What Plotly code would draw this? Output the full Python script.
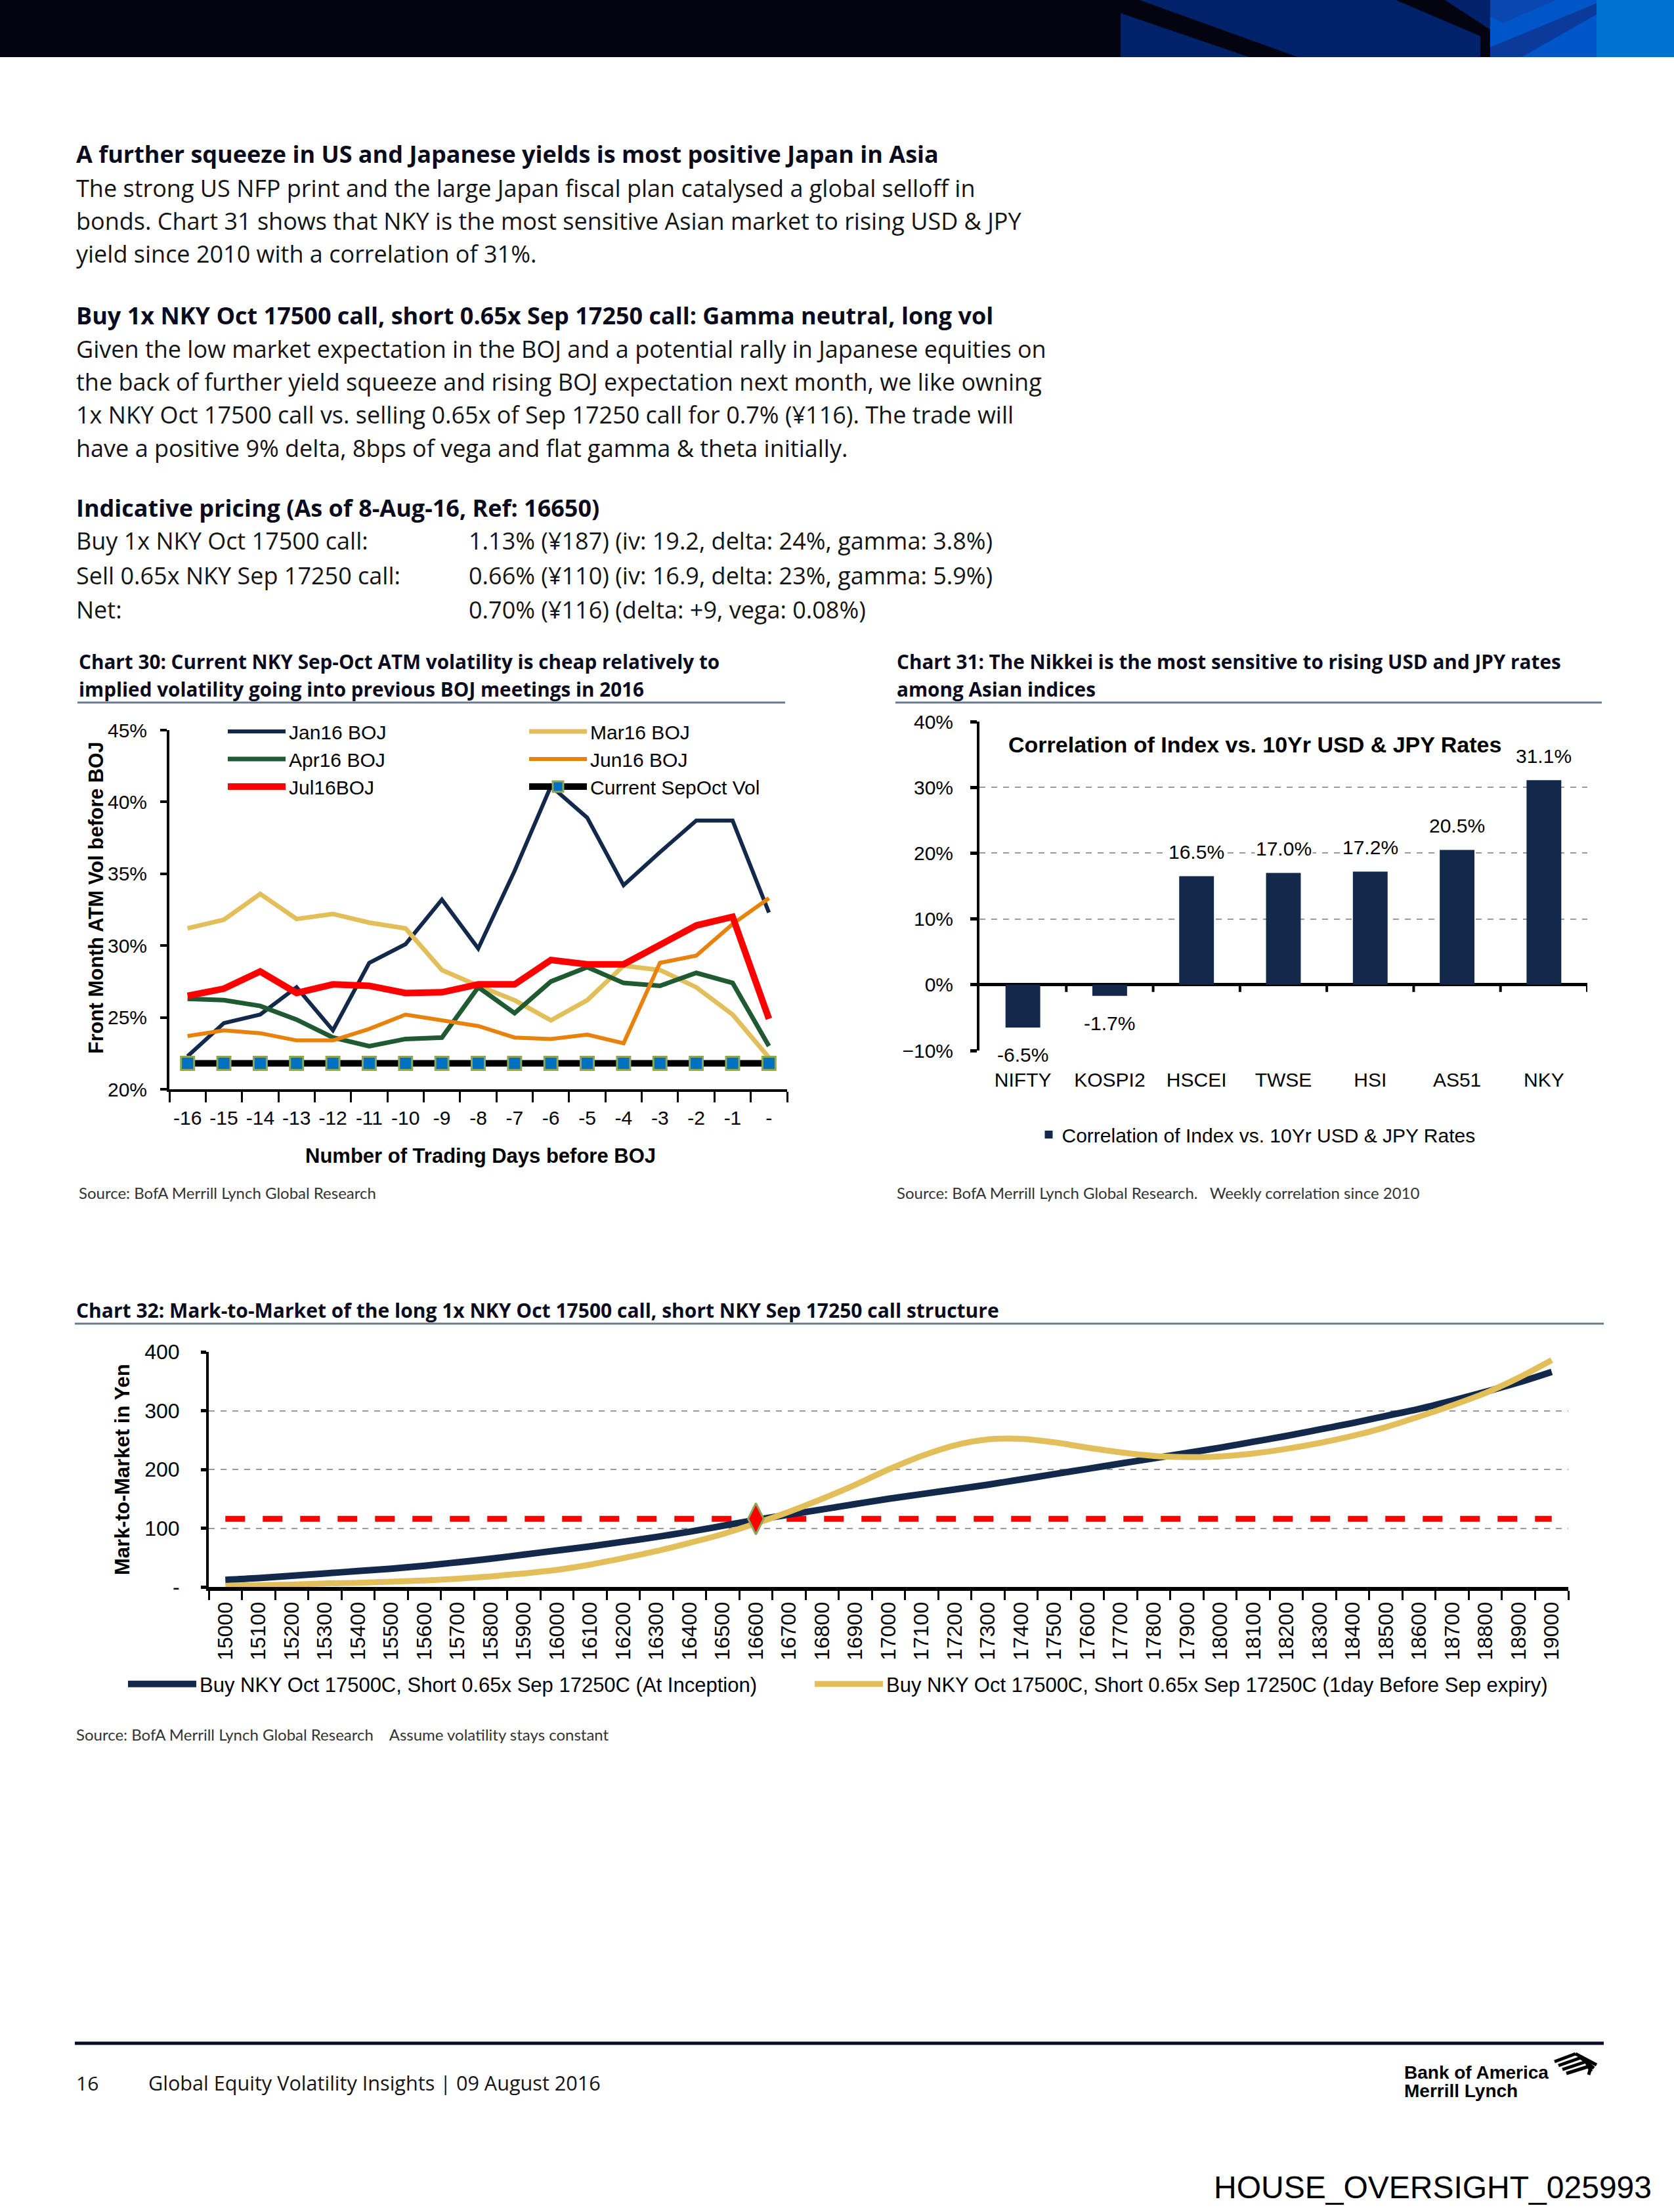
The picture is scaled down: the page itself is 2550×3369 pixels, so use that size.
import plotly.graph_objects as go

W, H = 2550, 3369

# ---------------- Data ----------------
# Chart 30
day_labels = ["-16", "-15", "-14", "-13", "-12", "-11", "-10", "-9", "-8",
              "-7", "-6", "-5", "-4", "-3", "-2", "-1", "-"]
jan16_boj = [22.3, 24.6, 25.2, 27.1, 24.1, 28.8, 30.1, 33.2, 29.8, 35.2, 41.1,
             38.9, 34.2, 36.5, 38.7, 38.7, 32.3]
mar16_boj = [31.2, 31.8, 33.6, 31.85, 32.2, 31.6, 31.2, 28.3, 27.2, 26.2, 24.8,
             26.2, 28.6, 28.3, 27.1, 25.2, 22.2]
apr16_boj = [26.3, 26.2, 25.8, 24.85, 23.6, 23.0, 23.5, 23.6, 27.1, 25.3, 27.5,
             28.5, 27.4, 27.2, 28.1, 27.4, 23.0]
jun16_boj = [23.7, 24.1, 23.9, 23.4, 23.4, 24.2, 25.2, 24.8, 24.4, 23.6, 23.5,
             23.8, 23.2, 28.8, 29.3, 31.5, 33.3]
jul16_boj = [26.5, 27.0, 28.2, 26.7, 27.3, 27.2, 26.7, 26.75, 27.3, 27.3, 29.0,
             28.7, 28.7, 30.1, 31.4, 32.0, 24.9]
current_sepoct = [21.8, 21.8, 21.8, 21.8, 21.8, 21.8, 21.8, 21.8, 21.8, 21.8,
                  21.8, 21.8, 21.8, 21.8, 21.8, 21.8, 21.8]

# Chart 31
indices = ["NIFTY", "KOSPI2", "HSCEI", "TWSE", "HSI", "AS51", "NKY"]
correlation = [-6.5, -1.7, 16.5, 17.0, 17.2, 20.5, 31.1]
correlation_labels = ["-6.5%", "-1.7%", "16.5%", "17.0%", "17.2%", "20.5%", "31.1%"]

# Chart 32
strikes = ["15000", "15100", "15200", "15300", "15400", "15500", "15600", "15700",
           "15800", "15900", "16000", "16100", "16200", "16300", "16400", "16500",
           "16600", "16700", "16800", "16900", "17000", "17100", "17200", "17300",
           "17400", "17500", "17600", "17700", "17800", "17900", "18000", "18100",
           "18200", "18300", "18400", "18500", "18600", "18700", "18800", "18900",
           "19000"]
mtm_inception = [12, 15, 19, 23, 27, 31, 36, 42, 48, 55, 62, 69, 77, 85, 94, 104,
                 114, 123, 132, 141, 150, 158, 166, 174, 183, 192, 201, 210, 219,
                 228, 237, 247, 257, 268, 279, 291, 303, 317, 332, 348, 366]
mtm_before_expiry = [2, 3, 4, 6, 7, 9, 11, 14, 18, 23, 29, 38, 49, 61, 75, 90,
                     108, 128, 150, 174, 200, 223, 241, 251, 252, 246, 237, 229,
                     223, 221, 222, 227, 235, 245, 257, 272, 290, 309, 330, 356, 386]
premium = [116, 116, 116, 116, 116, 116, 116, 116, 116, 116, 116, 116, 116, 116,
           116, 116, 116, 116, 116, 116, 116, 116, 116, 116, 116, 116, 116, 116,
           116, 116, 116, 116, 116, 116, 116, 116, 116, 116, 116, 116, 116]
entry_strike = ["16600"]
entry_value = [116]

# ---------------- Styles ----------------
ARIAL = "Liberation Sans, Arial, sans-serif"
BODY = "Open Sans, Noto Sans, sans-serif"
LIGHT = "Lato, Noto Sans, sans-serif"
NAVY = "#13294B"
GOLD = "#E2BF5A"
GREEN = "#1F5A32"
ORANGE = "#E8820C"
RED = "#FF0000"
TXT = "#141414"
HEAD = "#0b0b1e"


def px(x):
    return x / W


def py(y):
    return 1 - y / H


fig = go.Figure()

# ---------------- Chart 30 traces ----------------
fig.add_trace(go.Scatter(x=day_labels, y=jan16_boj, name="Jan16 BOJ", mode="lines",
                         line=dict(color=NAVY, width=6), xaxis="x", yaxis="y",
                         legend="legend"))
fig.add_trace(go.Scatter(x=day_labels, y=mar16_boj, name="Mar16 BOJ", mode="lines",
                         line=dict(color=GOLD, width=7), xaxis="x", yaxis="y",
                         legend="legend2"))
fig.add_trace(go.Scatter(x=day_labels, y=apr16_boj, name="Apr16 BOJ", mode="lines",
                         line=dict(color=GREEN, width=7), xaxis="x", yaxis="y",
                         legend="legend"))
fig.add_trace(go.Scatter(x=day_labels, y=jun16_boj, name="Jun16 BOJ", mode="lines",
                         line=dict(color=ORANGE, width=6), xaxis="x", yaxis="y",
                         legend="legend2"))
fig.add_trace(go.Scatter(x=day_labels, y=jul16_boj, name="Jul16BOJ", mode="lines",
                         line=dict(color=RED, width=10), xaxis="x", yaxis="y",
                         legend="legend"))
fig.add_trace(go.Scatter(x=day_labels, y=current_sepoct, name="Current SepOct Vol",
                         mode="lines+markers",
                         line=dict(color="black", width=10),
                         marker=dict(symbol="square", size=20, color="#0070C0",
                                     line=dict(color="#8DA65A", width=3)),
                         xaxis="x", yaxis="y", legend="legend2"))

# ---------------- Chart 31 traces ----------------
fig.add_trace(go.Bar(x=indices, y=correlation,
                     name="Correlation of Index vs. 10Yr USD &amp; JPY Rates",
                     marker=dict(color=NAVY, line=dict(width=0)),
                     xaxis="x2", yaxis="y2", legend="legend3"))

# ---------------- Chart 32 traces ----------------
fig.add_trace(go.Scatter(x=strikes, y=premium, mode="lines", showlegend=False,
                         line=dict(color=RED, width=9, dash="30px,27px"),
                         xaxis="x3", yaxis="y3"))
fig.add_trace(go.Scatter(x=strikes, y=mtm_inception, mode="lines",
                         name="Buy NKY Oct 17500C, Short 0.65x Sep 17250C (At Inception)",
                         line=dict(color=NAVY, width=10, shape="spline"),
                         xaxis="x3", yaxis="y3", legend="legend4"))
fig.add_trace(go.Scatter(x=strikes, y=mtm_before_expiry, mode="lines",
                         name="Buy NKY Oct 17500C, Short 0.65x Sep 17250C (1day Before Sep expiry)",
                         line=dict(color=GOLD, width=9, shape="spline"),
                         xaxis="x3", yaxis="y3", legend="legend5"))
fig.add_trace(go.Scatter(x=entry_strike, y=entry_value, mode="markers", showlegend=False,
                         marker=dict(symbol="diamond-tall", size=34, color=RED,
                                     line=dict(color="#8DA65A", width=3)),
                         xaxis="x3", yaxis="y3"))

# ---------------- Axes ----------------
tickfont30 = dict(family=ARIAL, size=30, color="black")
fig.update_layout(
    xaxis=dict(domain=[px(258), px(1199)], anchor="y", type="category",
               range=[-0.5, 16.5], showline=True, linecolor="black", linewidth=4,
               ticks="outside", tickson="boundaries", ticklen=16, tickwidth=3,
               tickcolor="black", tickfont=tickfont30, showgrid=False,
               ticklabelstandoff=14, automargin=False),
    yaxis=dict(domain=[py(1659), py(1112)], anchor="x", range=[20, 45], dtick=5,
               ticksuffix="%", showline=True, linecolor="black", linewidth=4,
               ticks="outside", ticklen=10, tickwidth=4, tickcolor="black",
               tickfont=tickfont30, showgrid=False, zeroline=False,
               ticklabelstandoff=14, automargin=False),
    xaxis2=dict(domain=[px(1492), px(2418)], anchor="y2", type="category",
                range=[-0.5, 6.5], showline=False, ticks="", showgrid=False,
                tickfont=tickfont30, ticklabelstandoff=24, automargin=False),
    yaxis2=dict(domain=[py(1600), py(1099)], anchor="x2", range=[-10, 40], dtick=10,
                ticksuffix="%", showline=True, linecolor="black", linewidth=4,
                ticks="outside", ticklen=10, tickwidth=5, tickcolor="black",
                tickfont=tickfont30, showgrid=True, gridcolor="#9a9a9a",
                griddash="dash", gridwidth=2, zeroline=True, zerolinecolor="black",
                zerolinewidth=5, ticklabelstandoff=20, automargin=False),
    xaxis3=dict(domain=[px(318), px(2389)], anchor="y3", type="category",
                range=[-0.5, 40.5], showline=True, linecolor="black", linewidth=6,
                ticks="outside", tickson="boundaries", ticklen=14, tickwidth=3,
                tickcolor="black", tickangle=-90,
                tickfont=dict(family=ARIAL, size=32, color="black"),
                showgrid=False, ticklabelstandoff=4, automargin=False),
    yaxis3=dict(domain=[py(2417), py(2059)], anchor="x3", range=[0, 400],
                tickvals=[0, 100, 200, 300, 400],
                ticktext=["-", "100", "200", "300", "400"],
                showline=True, linecolor="black", linewidth=4, ticks="outside",
                ticklen=8, tickwidth=5, tickcolor="black",
                tickfont=dict(family=ARIAL, size=32, color="black"),
                showgrid=True, gridcolor="#9a9a9a", griddash="dash", gridwidth=2,
                zeroline=False, ticklabelstandoff=26, automargin=False),
)

# ---------------- Legends ----------------
legfont = dict(family=ARIAL, size=30, color="black")
common_leg = dict(bgcolor="rgba(0,0,0,0)", borderwidth=0, font=legfont,
                  tracegroupgap=0, itemclick=False, itemdoubleclick=False)
fig.update_layout(
    legend=dict(x=px(342), y=py(1088), xanchor="left", yanchor="top",
                orientation="v", itemwidth=88, **common_leg),
    legend2=dict(x=px(801), y=py(1088), xanchor="left", yanchor="top",
                 orientation="v", itemwidth=88, **common_leg),
    legend3=dict(x=px(1915), y=py(1728), xanchor="center", yanchor="middle",
                 orientation="h", itemwidth=30, **common_leg),
    legend4=dict(x=px(190), y=py(2565), xanchor="left", yanchor="middle",
                 orientation="h", itemwidth=104, font=dict(family=ARIAL, size=31, color="black"),
                 bgcolor="rgba(0,0,0,0)", borderwidth=0, tracegroupgap=0),
    legend5=dict(x=px(1236), y=py(2565), xanchor="left", yanchor="middle",
                 orientation="h", itemwidth=104, font=dict(family=ARIAL, size=31, color="black"),
                 bgcolor="rgba(0,0,0,0)", borderwidth=0, tracegroupgap=0),
)

# ---------------- Annotations ----------------
ann = []


def txt(x, y, s, size, family=BODY, color=TXT, bold=False, xanchor="left",
        yanchor="middle", angle=0):
    ann.append(dict(x=px(x), y=py(y), xref="paper", yref="paper",
                    text=("<b>%s</b>" % s) if bold else s, showarrow=False,
                    xanchor=xanchor, yanchor=yanchor, textangle=angle,
                    font=dict(family=family, size=size, color=color)))


# body text
txt(114, 235, "A further squeeze in US and Japanese yields is most positive Japan in Asia", 36, bold=True, color=HEAD)
body1 = ["The strong US NFP print and the large Japan fiscal plan catalysed a global selloff in",
         "bonds. Chart 31 shows that NKY is the most sensitive Asian market to rising USD &amp; JPY",
         "yield since 2010 with a correlation of 31%."]
for i, s in enumerate(body1):
    txt(114, 286 + i * 50.5, s, 36)
txt(114, 480, "Buy 1x NKY Oct 17500 call, short 0.65x Sep 17250 call: Gamma neutral, long vol", 36, bold=True, color=HEAD)
body2 = ["Given the low market expectation in the BOJ and a potential rally in Japanese equities on",
         "the back of further yield squeeze and rising BOJ expectation next month, we like owning",
         "1x NKY Oct 17500 call vs. selling 0.65x of Sep 17250 call for 0.7% (¥116). The trade will",
         "have a positive 9% delta, 8bps of vega and flat gamma &amp; theta initially."]
for i, s in enumerate(body2):
    txt(114, 531 + i * 50.5, s, 36)
txt(114, 773, "Indicative pricing (As of 8-Aug-16, Ref: 16650)", 36, bold=True, color=HEAD)
pricing_left = ["Buy 1x NKY Oct 17500 call:", "Sell 0.65x NKY Sep 17250 call:", "Net:"]
pricing_right = ["1.13% (¥187) (iv: 19.2, delta: 24%, gamma: 3.8%)",
                 "0.66% (¥110) (iv: 16.9, delta: 23%, gamma: 5.9%)",
                 "0.70% (¥116) (delta: +9, vega: 0.08%)"]
for i in range(3):
    txt(114, 824 + i * 52, pricing_left[i], 36)
    txt(712, 824 + i * 52, pricing_right[i], 36)

# chart titles
txt(118, 1007, "Chart 30: Current NKY Sep-Oct ATM volatility is cheap relatively to", 29.7, bold=True, color=HEAD)
txt(118, 1049, "implied volatility going into previous BOJ meetings in 2016", 29.7, bold=True, color=HEAD)
txt(1364, 1007, "Chart 31: The Nikkei is the most sensitive to rising USD and JPY rates", 29.7, bold=True, color=HEAD)
txt(1364, 1049, "among Asian indices", 29.7, bold=True, color=HEAD)
txt(114, 1995, "Chart 32: Mark-to-Market of the long 1x NKY Oct 17500 call, short NKY Sep 17250 call structure", 30, bold=True, color=HEAD)

# chart 30 axis titles
txt(732, 1760, "Number of Trading Days before BOJ", 31, family=ARIAL, bold=True, color="black", xanchor="center")
txt(146, 1367, "Front Month ATM Vol before BOJ", 30.5, family=ARIAL, bold=True, color="black", xanchor="center", angle=-90)

# chart 31 inner title
txt(1911, 1134, "Correlation of Index vs. 10Yr USD &amp; JPY Rates", 34, family=ARIAL, bold=True, color="black", xanchor="center")

# chart 32 axis title
txt(186, 2238, "Mark-to-Market in Yen", 31, family=ARIAL, bold=True, color="black", xanchor="center", angle=-90)

# sources
txt(118, 1816, "Source: BofA Merrill Lynch Global Research", 24, family=LIGHT, color="#333333")
txt(1364, 1816, "Source: BofA Merrill Lynch Global Research.&nbsp;&nbsp;&nbsp;Weekly correlation since 2010", 24, family=LIGHT, color="#333333")
txt(114, 2641, "Source: BofA Merrill Lynch Global Research&nbsp;&nbsp;&nbsp;&nbsp;Assume volatility stays constant", 24, family=LIGHT, color="#333333")

# footer
txt(114, 3172, "16", 30)
txt(224, 3172, "Global Equity Volatility Insights | 09 August 2016", 30.6)
txt(2137, 3156, "Bank of America", 28, family=ARIAL, bold=True, color="black")
txt(2137, 3184, "Merrill Lynch", 28, family=ARIAL, bold=True, color="black")
txt(2518, 3331, "HOUSE_OVERSIGHT_025993", 48, family=ARIAL, color="black", xanchor="right")

# chart 31 bar value labels
for cat, v, lab in zip(indices, correlation, correlation_labels):
    ann.append(dict(x=cat, y=v, xref="x2", yref="y2", text=lab, showarrow=False,
                    xanchor="center", yanchor="middle",
                    yshift=37 if v >= 0 else -42, bgcolor="white",
                    font=dict(family=ARIAL, size=30, color="black")))

fig.update_layout(annotations=ann)

# ---------------- Shapes (page chrome) ----------------
shapes = []


def rect(x0, y0, x1, y1, color):
    shapes.append(dict(type="rect", xref="paper", yref="paper", x0=px(x0), x1=px(x1),
                       y0=py(y1), y1=py(y0), fillcolor=color, line=dict(width=0),
                       layer="below"))


def poly(points, color):
    d = "M " + " L ".join("%f,%f" % (px(a), py(b)) for a, b in points) + " Z"
    shapes.append(dict(type="path", xref="paper", yref="paper", path=d,
                       fillcolor=color, line=dict(width=0), layer="below"))


def hline(x0, x1, y, color, width):
    shapes.append(dict(type="line", xref="paper", yref="paper", x0=px(x0), x1=px(x1),
                       y0=py(y), y1=py(y), line=dict(color=color, width=width)))


# header banner
rect(0, 0, 2550, 87, "#03040f")
rect(1707, 0, 2550, 87, "#00226A")
poly([(1707, 0), (1736, 0), (1977, 87), (1903, 87), (1707, 20)], "#03040f")
poly([(2126, 0), (2201, 0), (2270, 45), (2270, 87), (2255, 87), (2255, 55)], "#03040f")
rect(2270, 0, 2432, 87, "#0055C8")
poly([(2270, 87), (2318, 87), (2470, 0), (2432, 0), (2432, 5), (2270, 72)], "#0A3A9A")
poly([(2270, 0), (2370, 0), (2290, 35), (2270, 25)], "#0A47B0")
rect(2432, 0, 2550, 87, "#0073D1")

# title underlines
hline(118, 1196, 1070, "#6B7B8C", 3)
hline(1364, 2440, 1070, "#6B7B8C", 3)
hline(114, 2443, 2016, "#6B7B8C", 3)

# footer line
hline(114, 2443, 3112, "#0b0b2a", 5)

# logo flag strokes
for k in range(4):
    shapes.append(dict(type="line", xref="paper", yref="paper",
                       x0=px(2368 + k * 6), y0=py(3140 + k * 6),
                       x1=px(2400 + k * 8), y1=py(3128 + k * 6),
                       line=dict(color="black", width=5)))
    shapes.append(dict(type="line", xref="paper", yref="paper",
                       x0=px(2400 + k * 8), y0=py(3128 + k * 6),
                       x1=px(2432 - k * 4), y1=py(3145 + k * 5),
                       line=dict(color="black", width=5)))

# chart 31: tick marks on zero line at category boundaries
for i in range(1, 8):
    shapes.append(dict(type="line", xref="x2", yref="y2", x0=i - 0.5, x1=i - 0.5,
                       y0=0, y1=-1.1, line=dict(color="black", width=4)))

fig.update_layout(shapes=shapes)

fig.update_layout(width=W, height=H, autosize=False,
                  margin=dict(l=0, r=0, t=0, b=0, pad=0, autoexpand=False),
                  paper_bgcolor="white", plot_bgcolor="white",
                  bargap=0.6, hovermode=False)

fig.write_html("out.html",
               config={"displayModeBar": False},
               post_script="document.body.style.margin='0';"
                           "document.body.style.padding='0';"
                           "document.documentElement.style.overflow='hidden';")
